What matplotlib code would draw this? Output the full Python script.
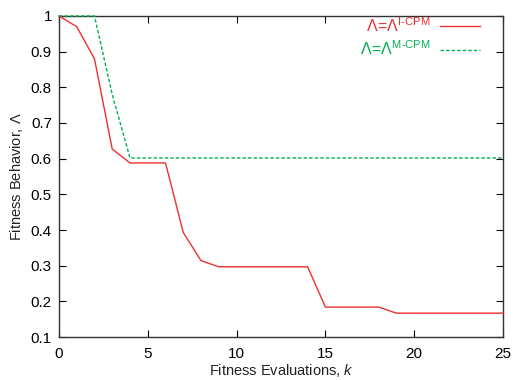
import matplotlib
matplotlib.use("Agg")
import matplotlib.pyplot as plt

plt.rcParams['font.family'] = ['Liberation Sans', 'DejaVu Sans']
plt.rcParams['mathtext.fontset'] = 'custom'
plt.rcParams['mathtext.rm'] = 'Liberation Sans'
plt.rcParams['mathtext.it'] = 'Liberation Sans:italic'
plt.rcParams['mathtext.sf'] = 'Liberation Sans'

k = list(range(26))
icpm = [1.0, 0.97, 0.88, 0.627, 0.588, 0.588, 0.588, 0.393, 0.314, 0.297,
        0.297, 0.297, 0.297, 0.297, 0.297, 0.184, 0.184, 0.184, 0.184, 0.167,
        0.167, 0.167, 0.167, 0.167, 0.167, 0.167]
mcpm = [1.0, 1.0, 1.0, 0.78, 0.602] + [0.602] * 21

xticks = [0, 5, 10, 15, 20, 25]
yticks = [0.1, 0.2, 0.3, 0.4, 0.5, 0.6, 0.7, 0.8, 0.9, 1.0]
yticklabels = ['0.1', '0.2', '0.3', '0.4', '0.5', '0.6', '0.7', '0.8', '0.9', '1']

red = '#ee3030'
green = '#00b050'

fig = plt.figure(figsize=(5.17, 3.80), dpi=100)
ax = fig.add_axes([0.114, 0.113, 0.859, 0.845])

ax.plot(k, icpm, color=red, lw=1.0, clip_on=False, zorder=4,
        label=r'$\mathrm{\Lambda\!=\!\Lambda^{I\text{-}CPM}}$')
ax.plot(k, mcpm, color=green, lw=1.0, ls=(0, (2.5, 1.5)), clip_on=False, zorder=5,
        label=r'$\mathrm{\Lambda\!=\!\Lambda^{M\text{-}CPM}}$')

ax.set_xlim(0, 25)
ax.set_ylim(0.1, 1.0)
ax.set_xticks(xticks)
ax.set_yticks(yticks)
ax.set_yticklabels(yticklabels)
ax.tick_params(direction='in', top=True, right=True, labelsize=11, length=5)
ax.tick_params(axis='x', pad=7)
ax.tick_params(axis='y', pad=5)
for s in ax.spines.values():
    s.set_linewidth(1.0)
    s.set_color('#333333')

ax.set_xlabel(r'Fitness Evaluations, $k$', fontsize=10.5, color='#222222', labelpad=1)
ax.set_ylabel(r'Fitness Behavior, $\Lambda$', fontsize=10.5, color='#222222', labelpad=4)

leg = ax.legend(loc='upper right', frameon=False, markerfirst=False,
                labelcolor='linecolor', fontsize=11.5, handlelength=2.5,
                bbox_to_anchor=(0.97, 1.03), borderaxespad=0.2, labelspacing=0.3,
                handletextpad=0.6, alignment='right')

fig.savefig('out.png', dpi=100)
